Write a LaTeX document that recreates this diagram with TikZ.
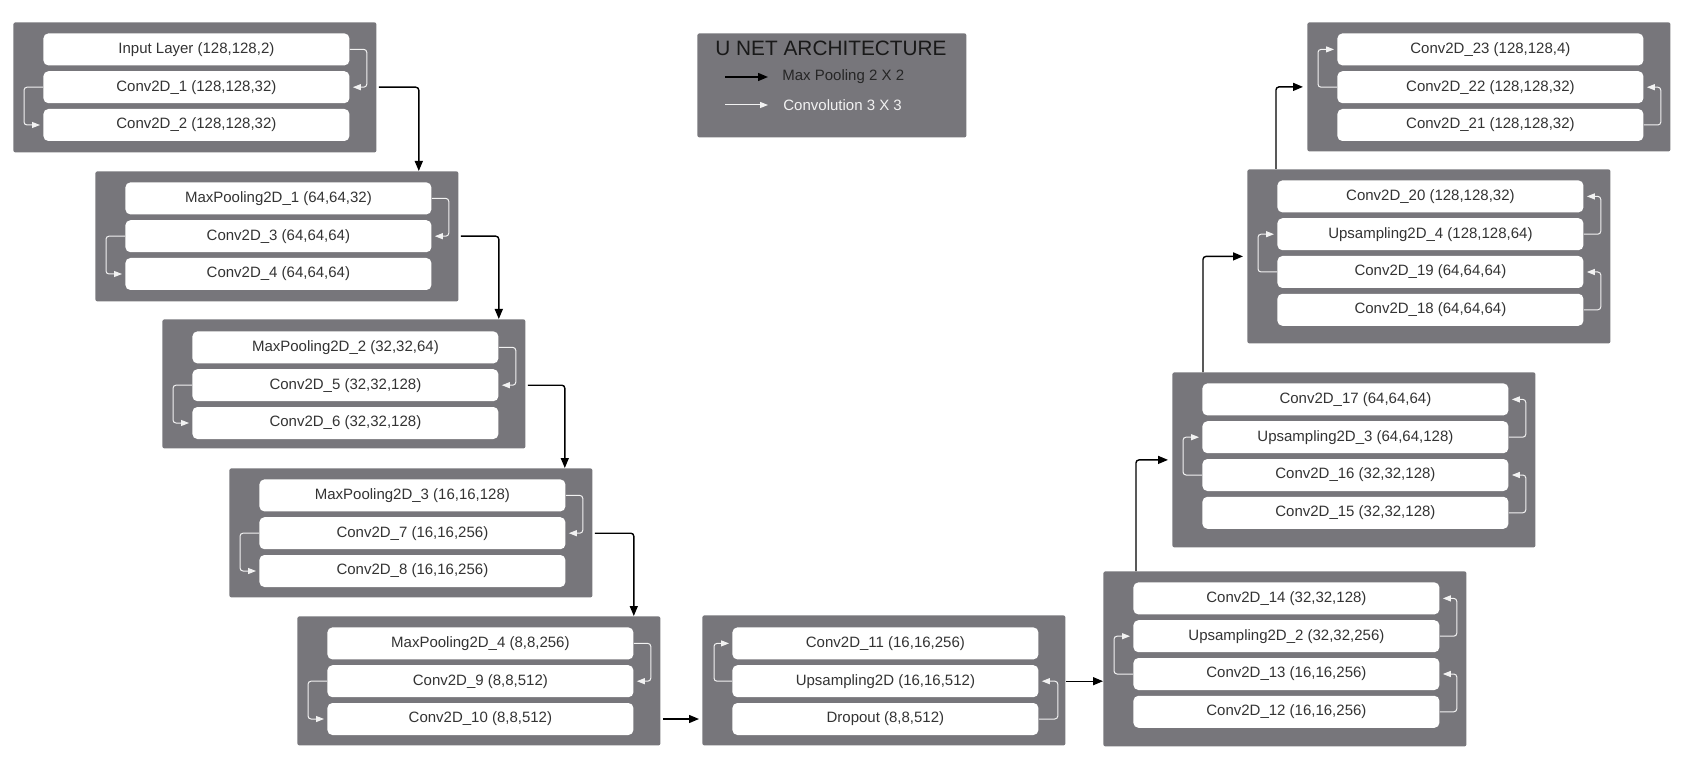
\documentclass[tikz,border=0pt]{standalone}
\usepackage{fontspec}
\setmainfont{Liberation Sans}
\usepackage{xcolor}
\usepackage{tikz}
\usetikzlibrary{positioning,arrows.meta}

\definecolor{boxgray}{HTML}{77767B}
\definecolor{layertext}{HTML}{333333}
\definecolor{convwhite}{HTML}{F2F2F2}

\begin{document}
\begin{tikzpicture}[x=0.5pt, y=-0.5pt,
    grp box/.style={fill=boxgray, rounded corners=1pt, minimum width=181.5pt, anchor=north west, inner sep=0pt},
    layer/.style={fill=white, rounded corners=2.5pt, minimum width=153pt, minimum height=16pt, inner sep=0pt, text=layertext, font=\fontsize{7.5}{9}\selectfont},
    pool/.style={-{Triangle[length=5pt,width=4pt]}, line width=0.7pt, black, rounded corners=1.5pt},
    conv/.style={-{Triangle[length=4pt,width=3pt]}, line width=0.5pt, convwhite, rounded corners=1.5pt, shorten >=1.5pt},
    node distance=2.5pt]
    \useasboundingbox (0,0) rectangle (1681,775);

    % contracting path
    \node[grp box, minimum height=65pt] (g1) at (13,22) {};
    \node[layer, anchor=north west] (input) at (43,33) {Input Layer (128,128,2)};
    \node[layer, below=of input] (c1) {Conv2D\_1 (128,128,32)};
    \node[layer, below=of c1] (c2) {Conv2D\_2 (128,128,32)};

    \node[grp box, minimum height=65pt] (g2) at (95,171) {};
    \node[layer, anchor=north west] (mp1) at (125,182) {MaxPooling2D\_1 (64,64,32)};
    \node[layer, below=of mp1] (c3) {Conv2D\_3 (64,64,64)};
    \node[layer, below=of c3] (c4) {Conv2D\_4 (64,64,64)};

    \node[grp box, minimum height=64.5pt] (g3) at (162,319) {};
    \node[layer, anchor=north west] (mp2) at (192,331) {MaxPooling2D\_2 (32,32,64)};
    \node[layer, below=of mp2] (c5) {Conv2D\_5 (32,32,128)};
    \node[layer, below=of c5] (c6) {Conv2D\_6 (32,32,128)};

    \node[grp box, minimum height=64.5pt] (g4) at (229,468) {};
    \node[layer, anchor=north west] (mp3) at (259,479) {MaxPooling2D\_3 (16,16,128)};
    \node[layer, below=of mp3] (c7) {Conv2D\_7 (16,16,256)};
    \node[layer, below=of c7] (c8) {Conv2D\_8 (16,16,256)};

    \node[grp box, minimum height=64.5pt] (g5) at (297,616) {};
    \node[layer, anchor=north west] (mp4) at (327,627) {MaxPooling2D\_4 (8,8,256)};
    \node[layer, below=of mp4] (c9) {Conv2D\_9 (8,8,512)};
    \node[layer, below=of c9] (c10) {Conv2D\_10 (8,8,512)};

    % bottleneck
    \node[grp box, minimum height=65pt] (g6) at (702,615) {};
    \node[layer, anchor=north west] (c11) at (732,627) {Conv2D\_11 (16,16,256)};
    \node[layer, below=of c11] (up1) {Upsampling2D (16,16,512)};
    \node[layer, below=of up1] (drop) {Dropout (8,8,512)};

    % expanding path
    \node[grp box, minimum height=87.5pt] (g7) at (1103,571) {};
    \node[layer, anchor=north west] (c14) at (1133,582) {Conv2D\_14 (32,32,128)};
    \node[layer, below=of c14] (up2) {Upsampling2D\_2 (32,32,256)};
    \node[layer, below=of up2] (c13) {Conv2D\_13 (16,16,256)};
    \node[layer, below=of c13] (c12) {Conv2D\_12 (16,16,256)};

    \node[grp box, minimum height=87.5pt] (g8) at (1172,372) {};
    \node[layer, anchor=north west] (c17) at (1202,383) {Conv2D\_17 (64,64,64)};
    \node[layer, below=of c17] (up3) {Upsampling2D\_3 (64,64,128)};
    \node[layer, below=of up3] (c16) {Conv2D\_16 (32,32,128)};
    \node[layer, below=of c16] (c15) {Conv2D\_15 (32,32,128)};

    \node[grp box, minimum height=87pt] (g9) at (1247,169) {};
    \node[layer, anchor=north west] (c20) at (1277,180) {Conv2D\_20 (128,128,32)};
    \node[layer, below=of c20] (up4) {Upsampling2D\_4 (128,128,64)};
    \node[layer, below=of up4] (c19) {Conv2D\_19 (64,64,64)};
    \node[layer, below=of c19] (c18) {Conv2D\_18 (64,64,64)};

    \node[grp box, minimum height=64.5pt] (g10) at (1307,22) {};
    \node[layer, anchor=north west] (c23) at (1337,33) {Conv2D\_23 (128,128,4)};
    \node[layer, below=of c23] (c22) {Conv2D\_22 (128,128,32)};
    \node[layer, below=of c22] (c21) {Conv2D\_21 (128,128,32)};

    % legend
    \node[grp box, minimum width=134.5pt, minimum height=52pt] (legend) at (697,33) {};
    \node[text=black!90, font=\fontsize{10.4}{12}\selectfont] (title) at (831,48) {U NET ARCHITECTURE};
    \coordinate (poolstart) at (725,77);
    \coordinate (poolend) at (768,77);
    \coordinate (convstart) at (725,105);
    \coordinate (convend) at (768,105);
    \node[anchor=west, inner sep=0pt, text=black!85, font=\fontsize{7.5}{9}\selectfont] (poollabel) at (782,77) {Max Pooling 2 X 2};
    \node[anchor=west, inner sep=0pt, text=convwhite, font=\fontsize{7.5}{9}\selectfont] (convlabel) at (783,105) {Convolution 3 X 3};
    \draw[pool] (poolstart) -- (poolend);
    \draw[conv, shorten >=0pt] (convstart) -- (convend);

    % convolutions inside the blocks
    \draw[conv] (input.east) -- ++(17,0) |- (c1.east);
    \draw[conv] (c1.west) -- ++(-19,0) |- (c2.west);
    \draw[conv] (mp1.east) -- ++(17,0) |- (c3.east);
    \draw[conv] (c3.west) -- ++(-19,0) |- (c4.west);
    \draw[conv] (mp2.east) -- ++(17,0) |- (c5.east);
    \draw[conv] (c5.west) -- ++(-19,0) |- (c6.west);
    \draw[conv] (mp3.east) -- ++(17,0) |- (c7.east);
    \draw[conv] (c7.west) -- ++(-19,0) |- (c8.west);
    \draw[conv] (mp4.east) -- ++(17,0) |- (c9.east);
    \draw[conv] (c9.west) -- ++(-19,0) |- (c10.west);
    \draw[conv] (drop.east) -- ++(19,0) |- (up1.east);
    \draw[conv] (up1.west) -- ++(-18,0) |- (c11.west);
    \draw[conv] (c12.east) -- ++(17,0) |- (c13.east);
    \draw[conv] (c13.west) -- ++(-19,0) |- (up2.west);
    \draw[conv] (up2.east) -- ++(17,0) |- (c14.east);
    \draw[conv] (c15.east) -- ++(17,0) |- (c16.east);
    \draw[conv] (c16.west) -- ++(-19,0) |- (up3.west);
    \draw[conv] (up3.east) -- ++(17,0) |- (c17.east);
    \draw[conv] (c18.east) -- ++(17,0) |- (c19.east);
    \draw[conv] (c19.west) -- ++(-19,0) |- (up4.west);
    \draw[conv] (up4.east) -- ++(17,0) |- (c20.east);
    \draw[conv] (c21.east) -- ++(17,0) |- (c22.east);
    \draw[conv] (c22.west) -- ++(-19,0) |- (c23.west);

    % max pooling / upsampling between blocks
    \draw[pool] ([xshift=1pt]g1.east |- c1.east) -| ([xshift=21pt]g1.east |- g2.north);
    \draw[pool] ([xshift=1pt]g2.east |- c3.east) -| ([xshift=20pt]g2.east |- g3.north);
    \draw[pool] ([xshift=1pt]g3.east |- c5.east) -| ([xshift=19.5pt]g3.east |- g4.north);
    \draw[pool] ([xshift=1pt]g4.east |- c7.east) -| ([xshift=20.5pt]g4.east |- g5.north);
    \draw[pool, shorten >=1.5pt] ([xshift=1pt]g5.east |- c10.east) -- (g6.west |- c10.east);
    \draw[pool] (g6.east |- up1.east) -- (g7.west |- up1.east);
    \draw[pool, shorten >=2pt] ([xshift=16.5pt]g7.north west) |- (g8.west);
    \draw[pool, shorten >=2pt] ([xshift=15.5pt]g8.north west) |- (g9.west);
    \draw[pool, shorten >=2pt] ([xshift=14.5pt]g9.north west) |- (g10.west);
\end{tikzpicture}
\end{document}
